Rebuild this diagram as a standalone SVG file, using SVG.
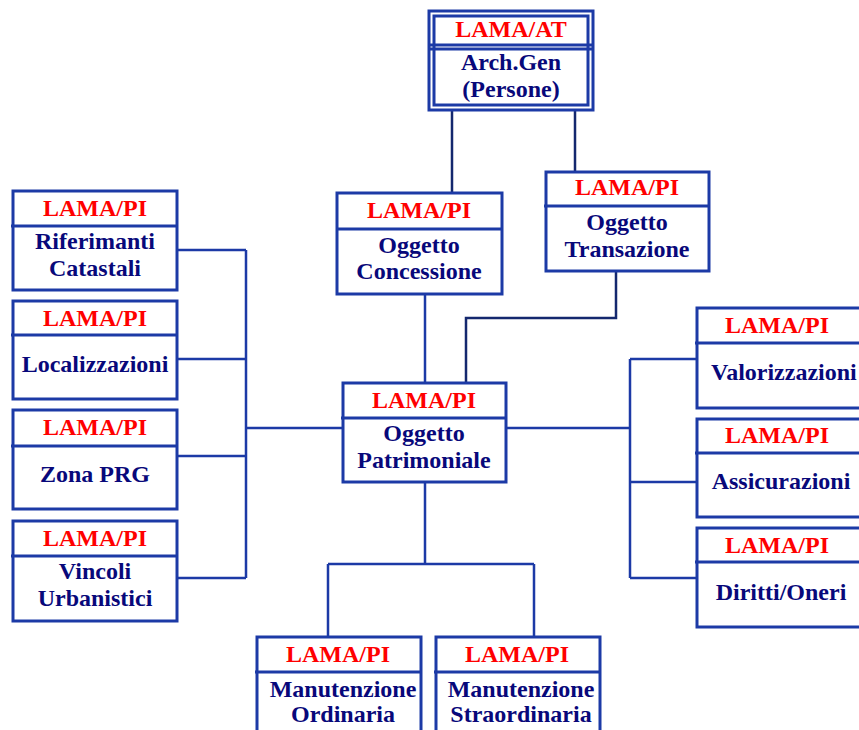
<svg xmlns="http://www.w3.org/2000/svg" width="859" height="730" viewBox="0 0 859 730">
<style>
.box{fill:#ffffff;stroke:#1c3aa6;stroke-width:3}
.div{stroke:#1c3aa6;stroke-width:3}
.c{fill:none;stroke:#1c3aa6;stroke-width:2.5}
.cd{fill:none;stroke:#14286e;stroke-width:2.5}
text{font-family:"Liberation Serif","Times New Roman",serif;font-weight:bold;font-size:24px;text-anchor:middle}
.r{fill:#ff0000}
.b{fill:#08087a}
</style>
<rect width="859" height="730" fill="#ffffff"/>
<g id="connectors">
<path class="cd" d="M452,110V193M575,110V172"/>
<path class="cd" d="M616,271V318H466V383"/>
<path class="c" d="M425,294V383"/>
<path class="c" d="M177,250H246M177,359H246M177,456H246M177,578H246M246,250V578M246,428H343"/>
<path class="c" d="M506,428H630M630,359V578M630,359H697M630,482H697M630,578H697"/>
<path class="c" d="M425,482V564M328,564H534M328,564V637M534,564V637"/>
</g>
<g id="n-top">
<rect class="box" x="429" y="11" width="164" height="99"/>
<rect class="box" x="434" y="16" width="154" height="89"/>
<line class="div" x1="429" y1="45" x2="593" y2="45"/>
<line class="div" x1="429" y1="49" x2="593" y2="49"/>
<text class="r" x="511" y="37">LAMA/AT</text>
<text class="b" x="511" y="70">Arch.Gen</text>
<text class="b" x="511" y="97">(Persone)</text>
</g>
<g id="n-concessione">
<rect class="box" x="337" y="193" width="165" height="101"/>
<line class="div" x1="336" y1="229" x2="502" y2="229"/>
<text class="r" x="419" y="218">LAMA/PI</text>
<text class="b" x="419" y="253">Oggetto</text>
<text class="b" x="419" y="279">Concessione</text>
</g>
<g id="n-transazione">
<rect class="box" x="546" y="172" width="163" height="99"/>
<line class="div" x1="544" y1="206" x2="709" y2="206"/>
<text class="r" x="627" y="195">LAMA/PI</text>
<text class="b" x="627" y="230">Oggetto</text>
<text class="b" x="627" y="257">Transazione</text>
</g>
<g id="n-patrimoniale">
<rect class="box" x="343" y="383" width="163" height="99"/>
<line class="div" x1="341" y1="418" x2="506" y2="418"/>
<text class="r" x="424" y="408">LAMA/PI</text>
<text class="b" x="424" y="441">Oggetto</text>
<text class="b" x="424" y="468">Patrimoniale</text>
</g>
<g id="n-riferimenti">
<rect class="box" x="13" y="191" width="164" height="99"/>
<line class="div" x1="11" y1="226" x2="177" y2="226"/>
<text class="r" x="95" y="216">LAMA/PI</text>
<text class="b" x="95" y="249">Riferimanti</text>
<text class="b" x="95" y="276">Catastali</text>
</g>
<g id="n-localizzazioni">
<rect class="box" x="13" y="301" width="164" height="98"/>
<line class="div" x1="11" y1="335" x2="177" y2="335"/>
<text class="r" x="95" y="326">LAMA/PI</text>
<text class="b" x="95" y="372">Localizzazioni</text>
</g>
<g id="n-zona">
<rect class="box" x="13" y="410" width="164" height="99"/>
<line class="div" x1="11" y1="446" x2="177" y2="446"/>
<text class="r" x="95" y="435">LAMA/PI</text>
<text class="b" x="95" y="482">Zona PRG</text>
</g>
<g id="n-vincoli">
<rect class="box" x="13" y="521" width="164" height="100"/>
<line class="div" x1="11" y1="556" x2="177" y2="556"/>
<text class="r" x="95" y="546">LAMA/PI</text>
<text class="b" x="95" y="579">Vincoli</text>
<text class="b" x="95" y="606">Urbanistici</text>
</g>
<g id="n-valorizzazioni">
<rect class="box" x="697" y="308" width="166" height="100"/>
<line class="div" x1="695" y1="343" x2="863" y2="343"/>
<text class="r" x="777" y="333">LAMA/PI</text>
<text class="b" x="711" y="380" style="text-anchor:start">Valorizzazioni</text>
</g>
<g id="n-assicurazioni">
<rect class="box" x="697" y="419" width="166" height="98"/>
<line class="div" x1="695" y1="453" x2="863" y2="453"/>
<text class="r" x="777" y="443">LAMA/PI</text>
<text class="b" x="781" y="489">Assicurazioni</text>
</g>
<g id="n-diritti">
<rect class="box" x="697" y="528" width="166" height="99"/>
<line class="div" x1="695" y1="562" x2="863" y2="562"/>
<text class="r" x="777" y="553">LAMA/PI</text>
<text class="b" x="781" y="600">Diritti/Oneri</text>
</g>
<g id="n-man-ord">
<rect class="box" x="257" y="637" width="164" height="110"/>
<line class="div" x1="255" y1="672" x2="421" y2="672"/>
<text class="r" x="338" y="662">LAMA/PI</text>
<text class="b" x="343" y="697">Manutenzione</text>
<text class="b" x="343" y="722">Ordinaria</text>
</g>
<g id="n-man-stra">
<rect class="box" x="436" y="637" width="164" height="110"/>
<line class="div" x1="434" y1="672" x2="600" y2="672"/>
<text class="r" x="517" y="662">LAMA/PI</text>
<text class="b" x="521" y="697">Manutenzione</text>
<text class="b" x="521" y="722">Straordinaria</text>
</g>
</svg>
